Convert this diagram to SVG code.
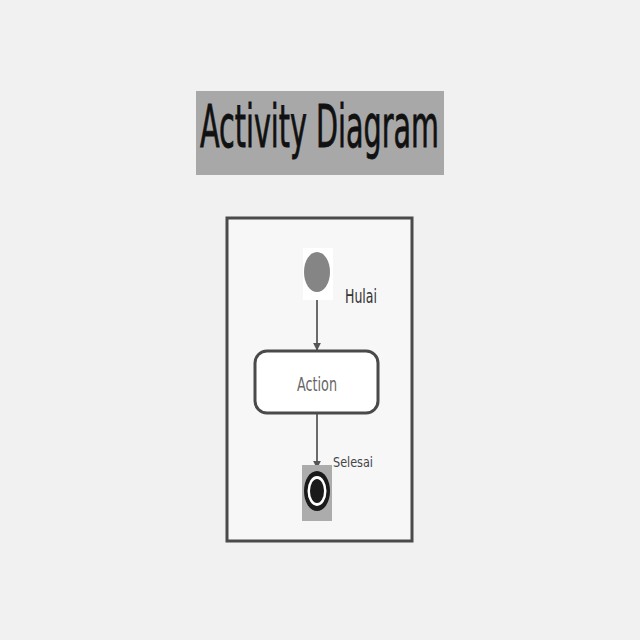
<svg xmlns="http://www.w3.org/2000/svg" width="640" height="640" viewBox="0 0 640 640">
<defs>
<style>
.lbl{font-family:"DejaVu Sans Condensed","DejaVu Sans","Liberation Sans",sans-serif;}
.edge{stroke:#6a6a6a;stroke-width:2;fill:none;}
</style>
<marker id="arr" viewBox="0 0 10 10" refX="9" refY="5" markerWidth="4" markerHeight="4" orient="auto">
<path d="M0,0 L10,5 L0,10 z" fill="#555"/>
</marker>
</defs>
<rect x="0" y="0" width="640" height="640" fill="#f1f1f1"/>
<g id="title">
<rect x="196" y="91" width="248" height="84" fill="#a8a8a8"/>
<text class="lbl" x="200" y="147" font-size="58" textLength="239" lengthAdjust="spacingAndGlyphs" fill="#111" stroke="#111" stroke-width="0.8">Activity Diagram</text>
</g>
<g id="frame">
<rect x="227" y="218" width="185" height="323" fill="#f7f7f7" stroke="#4a4a4a" stroke-width="3"/>
</g>
<g id="connectors">
<line class="edge" x1="317" y1="292" x2="317" y2="350" marker-end="url(#arr)"/>
<line class="edge" x1="317" y1="414" x2="317" y2="468" stroke="#555" marker-end="url(#arr)"/>
</g>
<g id="start">
<rect x="303" y="248" width="30" height="52" fill="#ffffff"/>
<ellipse cx="317" cy="272" rx="13" ry="20" fill="#858585"/>
<text class="lbl" x="345" y="303" font-size="19" textLength="32" lengthAdjust="spacingAndGlyphs" fill="#333">Hulai</text>
</g>
<g id="action">
<rect x="255" y="351" width="123" height="62" rx="12" fill="#ffffff" stroke="#4a4a4a" stroke-width="3"/>
<text class="lbl" x="317" y="391" font-size="20" text-anchor="middle" textLength="40" lengthAdjust="spacingAndGlyphs" fill="#666">Action</text>
</g>
<g id="end">
<rect x="302" y="465" width="30" height="56" fill="#acacac"/>
<ellipse cx="317" cy="491" rx="13" ry="20" fill="#1a1a1a"/>
<ellipse cx="317" cy="491" rx="9.5" ry="15" fill="#ffffff"/>
<ellipse cx="317" cy="491" rx="7" ry="12" fill="#1a1a1a"/>
<text class="lbl" x="333" y="467" font-size="14" textLength="40" lengthAdjust="spacingAndGlyphs" fill="#444">Selesai</text>
</g>
</svg>
